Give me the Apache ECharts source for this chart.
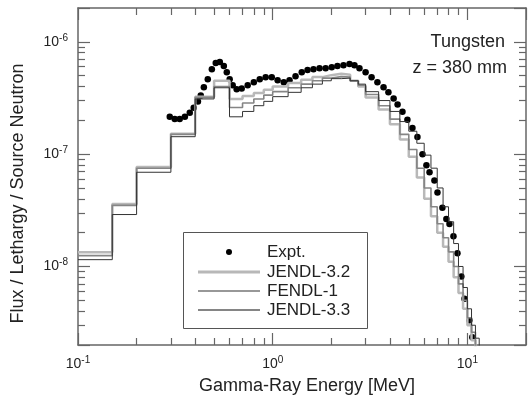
<!DOCTYPE html>
<html><head><meta charset="utf-8">
<script src="https://cdn.jsdelivr.net/npm/echarts@6/dist/echarts.min.js"></script>
<style>html,body{margin:0;padding:0;background:#fff}#c{width:529px;height:401px}</style>
</head><body><div id="c"></div>
<script>
// ---- data ----
const energyEdges = [0.1,0.15,0.2,0.3,0.4,0.5,0.6,0.7,0.8,0.9,1.0,1.2,1.4,1.6,1.8,2.0,2.25,2.5,2.75,3.0,3.5,4.0,4.5,5.0,5.5,6.0,6.5,7.0,7.5,8.0,8.5,9.0,9.5,10.0,10.5,11.0,11.5,12.0];
const jendl32 = [1.34e-8,3.6e-8,7.7e-8,1.52e-7,3.25e-7,4.5e-7,3.1e-7,3.3e-7,3.5e-7,3.75e-7,4.0e-7,4.3e-7,4.6e-7,4.85e-7,5.05e-7,5.2e-7,5.1e-7,4.5e-7,4.0e-7,3.2e-7,2.5e-7,1.85e-7,1.35e-7,9.5e-8,6.2e-8,4.0e-8,2.8e-8,2.0e-8,1.5e-8,1.1e-8,8.0e-9,5.8e-9,4.2e-9,3.0e-9,2.2e-9,1.5e-9,1.0e-9];
const fendl1 = [1.15e-8,2.9e-8,6.9e-8,1.43e-7,3.1e-7,3.9e-7,2.15e-7,2.4e-7,2.7e-7,2.95e-7,3.25e-7,3.55e-7,3.9e-7,4.2e-7,4.5e-7,4.7e-7,4.75e-7,4.5e-7,4.2e-7,3.6e-7,3.0e-7,2.4e-7,1.95e-7,1.6e-7,1.25e-7,9.8e-8,7.5e-8,5.0e-8,3.4e-8,2.5e-8,1.6e-8,1.0e-8,6.5e-9,4.2e-9,3.0e-9,2.3e-9,1.6e-9];
const jendl33 = [1.25e-8,3.5e-8,7.5e-8,1.5e-7,3.2e-7,4.0e-7,2.6e-7,2.85e-7,3.1e-7,3.35e-7,3.6e-7,3.9e-7,4.2e-7,4.5e-7,4.75e-7,4.9e-7,4.85e-7,4.5e-7,4.1e-7,3.4e-7,2.7e-7,2.05e-7,1.5e-7,1.1e-7,7.5e-8,5.0e-8,3.4e-8,2.4e-8,1.8e-8,1.35e-8,1.0e-8,7.0e-9,5.0e-9,3.5e-9,2.6e-9,1.8e-9,1.2e-9];
const exptEnergy = [0.296,0.314,0.333,0.354,0.375,0.393,0.413,0.427,0.443,0.464,0.487,0.510,0.535,0.561,0.581,0.601,0.623,0.653,0.693,0.744,0.80,0.858,0.92,0.989,1.06,1.14,1.22,1.31,1.41,1.51,1.62,1.74,1.87,2.01,2.15,2.31,2.48,2.63,2.79,3.0,3.22,3.45,3.71,3.93,4.18,4.38,4.64,4.92,5.22,5.54,5.88,6.16,6.39,6.77,7.02,7.44,7.8,8.09,8.48,8.89,9.31,9.66,10.24,10.6];
const exptFlux = [2.15e-7,2.06e-7,2.06e-7,2.15e-7,2.34e-7,2.59e-7,2.94e-7,3.33e-7,3.94e-7,4.64e-7,5.71e-7,6.47e-7,6.6e-7,6.08e-7,5.37e-7,4.64e-7,4.1e-7,3.78e-7,3.85e-7,4.1e-7,4.36e-7,4.64e-7,4.84e-7,4.84e-7,4.55e-7,4.36e-7,4.55e-7,4.94e-7,5.37e-7,5.6e-7,5.71e-7,5.83e-7,5.83e-7,5.95e-7,6.08e-7,6.2e-7,6.34e-7,6.2e-7,5.83e-7,5.37e-7,4.84e-7,4.36e-7,3.94e-7,3.55e-7,3.13e-7,2.76e-7,2.39e-7,2.02e-7,1.71e-7,1.42e-7,1.0e-7,7.96e-8,6.89e-8,5.83e-8,4.55e-8,3.33e-8,2.65e-8,2.39e-8,1.86e-8,1.31e-8,8.13e-9,5.15e-9,3.33e-9,2.34e-9];
const seriesNames = ['Expt.','JENDL-3.2','FENDL-1','JENDL-3.3'];
const annotation = ['Tungsten','z = 380 mm'];

// ---- helpers ----
function stepData(vals){
  const pts = vals.map((v,i)=>[energyEdges[i], v]);
  pts.push([energyEdges[energyEdges.length-1], vals[vals.length-1]]);
  return pts;
}
const FONT = 'Liberation Sans';
const frameColor = '#666';
function supLabel(v){
  const e = Math.round(Math.log10(v));
  if (Math.abs(Math.log10(v) - e) > 1e-6) return '';
  return '{b|10}{s|' + (e<0?'-':'') + Math.abs(e) + '}';
}
const rich = {
  b:{fontSize:14, fontFamily:FONT, color:'#222', lineHeight:18},
  s:{fontSize:10, fontFamily:FONT, color:'#222', verticalAlign:'top', lineHeight:18}
};
function ax(pos, min, max){
  return {
    type:'log', min:min, max:max, position:pos,
    axisLine:{show:true, onZero:false, lineStyle:{color:frameColor, width:1.5}},
    axisTick:{show:true, inside:true, length:12, lineStyle:{color:frameColor, width:1.2}},
    minorTick:{show:true, splitNumber:9, length:7, lineStyle:{color:frameColor, width:1.2}},
    axisLabel:{show:false},
    splitLine:{show:false}
  };
}
const xBottom = ax('bottom',0.1,20);
xBottom.axisLabel = {show:true, formatter:supLabel, rich:rich, margin:10};
xBottom.name = 'Gamma-Ray Energy [MeV]';
xBottom.nameLocation = 'middle';
xBottom.nameGap = 32;
xBottom.nameTextStyle = {fontSize:18, fontFamily:FONT, color:'#222', padding:[0,0,0,10]};
const yLeft = ax('left',2e-9,2e-6);
yLeft.axisLabel = {show:true, formatter:supLabel, rich:rich, margin:10};
yLeft.name = 'Flux / Lethargy / Source Neutron';
yLeft.nameLocation = 'middle';
yLeft.nameGap = 51;
yLeft.nameTextStyle = {fontSize:18, fontFamily:FONT, color:'#222', padding:[0,34,0,0]};

const chart = echarts.init(document.getElementById('c'));
chart.setOption({
  animation:false,
  grid:{left:78, right:2, top:8, bottom:56},
  xAxis:[xBottom, ax('top',0.1,20)],
  yAxis:[yLeft, ax('right',2e-9,2e-6)],
  series:[
    {name:seriesNames[1], type:'line', step:'end', data:stepData(jendl32), showSymbol:false, symbol:'none',
     lineStyle:{color:'#b8b8b8', width:2.5}},
    {name:seriesNames[3], type:'line', step:'end', data:stepData(jendl33), showSymbol:false, symbol:'none',
     lineStyle:{color:'#858585', width:1.6}},
    {name:seriesNames[2], type:'line', step:'end', data:stepData(fendl1), showSymbol:false, symbol:'none',
     lineStyle:{color:'#333', width:1}},
    {name:seriesNames[0], type:'scatter', data:exptEnergy.map((e,i)=>[e, exptFlux[i]]),
     symbol:'circle', symbolSize:6.5, itemStyle:{color:'#000', opacity:1}}
  ],
  graphic:[
    {type:'rect', shape:{x:183.5, y:232.5, width:184, height:96}, style:{fill:'#fff', stroke:'#555', lineWidth:1}, z:10},
    {type:'circle', shape:{cx:229, cy:252, r:3}, style:{fill:'#000'}, z:11},
    {type:'line', shape:{x1:198, y1:272, x2:260, y2:272}, style:{stroke:'#b8b8b8', lineWidth:3}, z:11},
    {type:'line', shape:{x1:198, y1:291, x2:260, y2:291}, style:{stroke:'#333', lineWidth:1.2}, z:11},
    {type:'line', shape:{x1:198, y1:310, x2:260, y2:310}, style:{stroke:'#858585', lineWidth:2.2}, z:11},
    {type:'text', x:267, y:252, style:{text:seriesNames[0], font:'17px '+FONT, fill:'#222', verticalAlign:'middle'}, z:11},
    {type:'text', x:267, y:272, style:{text:seriesNames[1], font:'17px '+FONT, fill:'#222', verticalAlign:'middle'}, z:11},
    {type:'text', x:267, y:291, style:{text:seriesNames[2], font:'17px '+FONT, fill:'#222', verticalAlign:'middle'}, z:11},
    {type:'text', x:267, y:310, style:{text:seriesNames[3], font:'17px '+FONT, fill:'#222', verticalAlign:'middle'}, z:11},
    {type:'text', x:505, y:42, style:{text:annotation[0], font:'18px '+FONT, fill:'#222', align:'right', verticalAlign:'middle'}, z:11},
    {type:'text', x:507, y:68, style:{text:annotation[1], font:'18px '+FONT, fill:'#222', align:'right', verticalAlign:'middle'}, z:11}
  ]
});
</script></body></html>
